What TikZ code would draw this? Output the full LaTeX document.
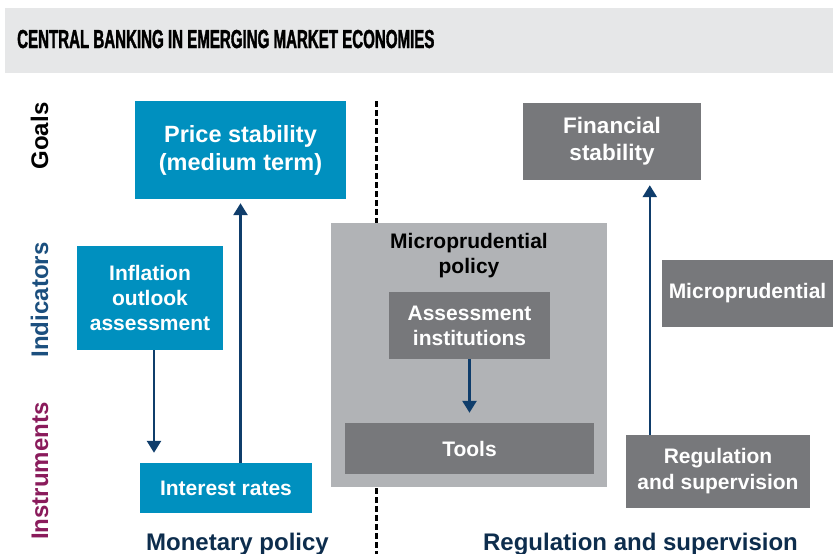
\documentclass[tikz,border=0pt]{standalone}
\usepackage{fontspec}
\setmainfont{Liberation Sans}
\newfontfamily\narrowfont[FakeStretch=0.58, BoldFeatures={FakeBold=1.4}]{Liberation Sans}
\usetikzlibrary{arrows.meta, positioning}

\definecolor{bandgrey}{RGB}{230,231,232}
\definecolor{boxblue}{RGB}{0,144,191}
\definecolor{boxdark}{RGB}{119,120,123}
\definecolor{boxlight}{RGB}{177,179,182}
\definecolor{arrownavy}{RGB}{15,61,107}
\definecolor{labelnavy}{RGB}{13,45,77}
\definecolor{rowblue}{RGB}{27,79,126}
\definecolor{rowplum}{RGB}{138,27,91}

\tikzset{
  box/.style={inner sep=0pt, align=center, text=white,
    font=\fontsize{21}{25}\selectfont\bfseries},
  bluebox/.style={box, fill=boxblue},
  darkbox/.style={box, fill=boxdark},
  flow/.style={draw=arrownavy, line width=2.6pt,
    -{Triangle[width=14pt,length=12pt]}},
  rowlabel/.style={rotate=90, anchor=base, inner sep=0pt,
    font=\fontsize{24}{24}\selectfont\bfseries},
  footlabel/.style={anchor=base, inner sep=0pt, text=labelnavy,
    font=\fontsize{24}{24}\selectfont\bfseries}
}

\begin{document}
\begin{tikzpicture}[x=1pt, y=-1pt]
  \useasboundingbox (0,0) rectangle (833,554);

  % title band
  \fill[bandgrey] (5,8) rectangle (833,73);
  \node[anchor=base west, inner sep=0pt, font=\narrowfont\fontsize{26}{26}\selectfont\bfseries]
    (title) at (17,48) {CENTRAL BANKING IN EMERGING MARKET ECONOMIES};

  % row labels on the left
  \node[rowlabel] (goals) at (48,136) {Goals};
  \node[rowlabel, text=rowblue] (indic) at (48,300) {Indicators};
  \node[rowlabel, text=rowplum] (instr) at (48,471) {Instruments};

  % divider between the two policies
  \coordinate (divtop) at (376,101);
  \coordinate (divbot) at (376,554);
  \draw[line width=3pt, dash pattern=on 6pt off 3pt] (divtop) -- (divbot);

  % monetary policy column
  \node[bluebox, minimum width=211pt, minimum height=98pt,
    font=\fontsize{23.5}{28}\selectfont\bfseries]
    (price) at (240.5,150) {Price stability\\(medium term)};
  \node[bluebox, minimum width=146pt, minimum height=104pt]
    (infl) at (150,298) {Inflation\\outlook\\assessment};
  \node[bluebox, minimum width=172pt, minimum height=50pt]
    (rates) at (226,488) {Interest rates};

  % microprudential policy block
  \node[fill=boxlight, minimum width=276pt, minimum height=264pt]
    (micro) at (469,355) {};
  \node[inner sep=0pt, anchor=north, align=center,
    font=\fontsize{21}{25}\selectfont\bfseries]
    (microtitle) at (469,233) {Microprudential\\policy};
  \node[darkbox, minimum width=161pt, minimum height=67pt]
    (assess) at (469.5,325.5) {Assessment\\institutions};
  \node[darkbox, minimum width=249pt, minimum height=51pt]
    (tools) at (469.5,448.5) {Tools};

  % regulation and supervision column
  \node[darkbox, minimum width=178pt, minimum height=77pt,
    font=\fontsize{22.5}{27}\selectfont\bfseries]
    (finstab) at (612,141.5) {Financial\\stability};
  \node[darkbox, minimum width=171pt, minimum height=67pt]
    (microright) at (747.5,293.5) {Microprudential};
  \node[darkbox, minimum width=184pt, minimum height=73pt, font=\fontsize{21}{26}\selectfont\bfseries]
    (regsup) at (718,471.5) {Regulation\\and supervision};

  % arrows
  \draw[flow, shorten >=10pt] ([xshift=4pt]infl.south) -- ([xshift=4pt]infl.south |- rates.north);
  \draw[flow, shorten >=4pt] (price.south |- rates.north) -- (price.south);
  \draw[flow, shorten >=10pt] (assess.south) -- (assess.south |- tools.north);
  \draw[flow, shorten >=5pt] (regsup.north west) ++(24pt,0) coordinate (uparrow)
    -- (uparrow |- finstab.south);

  % column captions
  \node[footlabel] (monlabel) at (237.5,550) {Monetary policy};
  \node[footlabel] (reglabel) at (640.5,550) {Regulation and supervision};
\end{tikzpicture}
\end{document}
